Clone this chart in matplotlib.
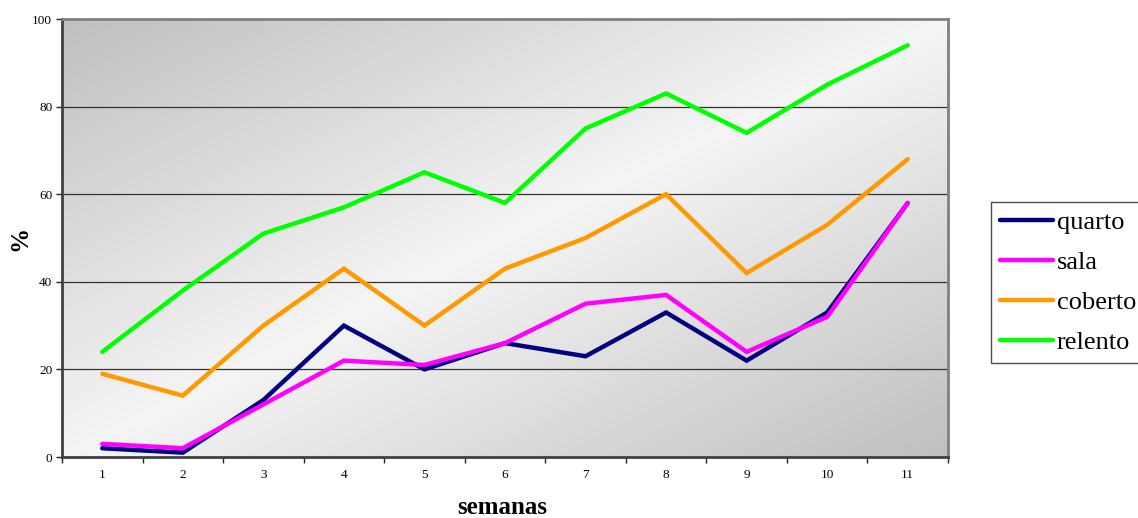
import matplotlib
matplotlib.use("Agg")
import matplotlib.pyplot as plt
import numpy as np

weeks = [1, 2, 3, 4, 5, 6, 7, 8, 9, 10, 11]
quarto = [2, 1, 13, 30, 20, 26, 23, 33, 22, 33, 58]
sala = [3, 2, 12, 22, 21, 26, 35, 37, 24, 32, 58]
coberto = [19, 14, 30, 43, 30, 43, 50, 60, 42, 53, 68]
relento = [24, 38, 51, 57, 65, 58, 75, 83, 74, 85, 94]
series_names = ["quarto", "sala", "coberto", "relento"]
series_colors = ["#000080", "#ff00ff", "#ff9900", "#00ff00"]

plt.rcParams['font.family'] = ['Liberation Serif', 'DejaVu Serif']

W, H = 1138, 518
fig = plt.figure(figsize=(W/100, H/100), dpi=100)
ax = fig.add_axes([62/W, (H-457)/H, (948-62)/W, (457-19)/H])

# gradient background: dark at top-left and bottom-right corners, light along anti-diagonal
n = 300
xx, yy = np.meshgrid(np.linspace(0, 1, n), np.linspace(0, 1, n))  # yy 0 = top
s = np.abs((xx + yy) - 1.0)
light, dark = 0.96, 0.75
g = light - (light - dark) * s
img = np.dstack([g, g, g])
ax.imshow(img, extent=[0.5, 11.5, 0, 100], aspect='auto', zorder=0, origin='upper')

for v in [20, 40, 60, 80]:
    ax.axhline(v, color='#333333', lw=0.9, zorder=1)

for name, vals, c in zip(series_names, [quarto, sala, coberto, relento], series_colors):
    ax.plot(weeks, vals, color=c, lw=3.2, label=name, zorder=3, solid_capstyle='round', solid_joinstyle='miter')

ax.set_xlim(0.5, 11.5)
ax.set_ylim(0, 100)
ax.set_yticks([0, 20, 40, 60, 80, 100])
ax.set_yticklabels(['0', '20', '40', '60', '80', '100'], fontsize=9.5)
ax.set_xticks(np.arange(0.5, 12, 1))
ax.set_xticklabels([])
ax.set_xticks(weeks, minor=True)
ax.set_xticklabels([str(w) for w in weeks], minor=True, fontsize=9.5)
ax.tick_params(axis='x', which='minor', length=0, pad=9)
ax.tick_params(axis='x', which='major', length=4, width=1, direction='out', color='#222222')
ax.tick_params(axis='y', length=4, width=1, direction='out', pad=3, color='#222222')

for side in ['left', 'bottom']:
    ax.spines[side].set_color('#404040')
    ax.spines[side].set_linewidth(2)
for side in ['top', 'right']:
    ax.spines[side].set_color('#808080')
    ax.spines[side].set_linewidth(2)

fig.text(20/W, 1 - 238/H, '%', rotation=90, fontsize=18, fontweight='bold', ha='center', va='center')
fig.text(502/W, 1 - 507/H, 'semanas', fontsize=18, fontweight='bold', ha='center', va='center')

leg = fig.legend(loc='upper left', bbox_to_anchor=(991/W, 1 - 202/H), fontsize=19,
                 frameon=True, fancybox=False, edgecolor='#222222', borderpad=0.34,
                 handlelength=2.0, handletextpad=0.15, labelspacing=0.62, borderaxespad=0)
leg.get_frame().set_linewidth(1)
for line in leg.get_lines():
    line.set_linewidth(3.2)

fig.savefig('out.png', dpi=100)
